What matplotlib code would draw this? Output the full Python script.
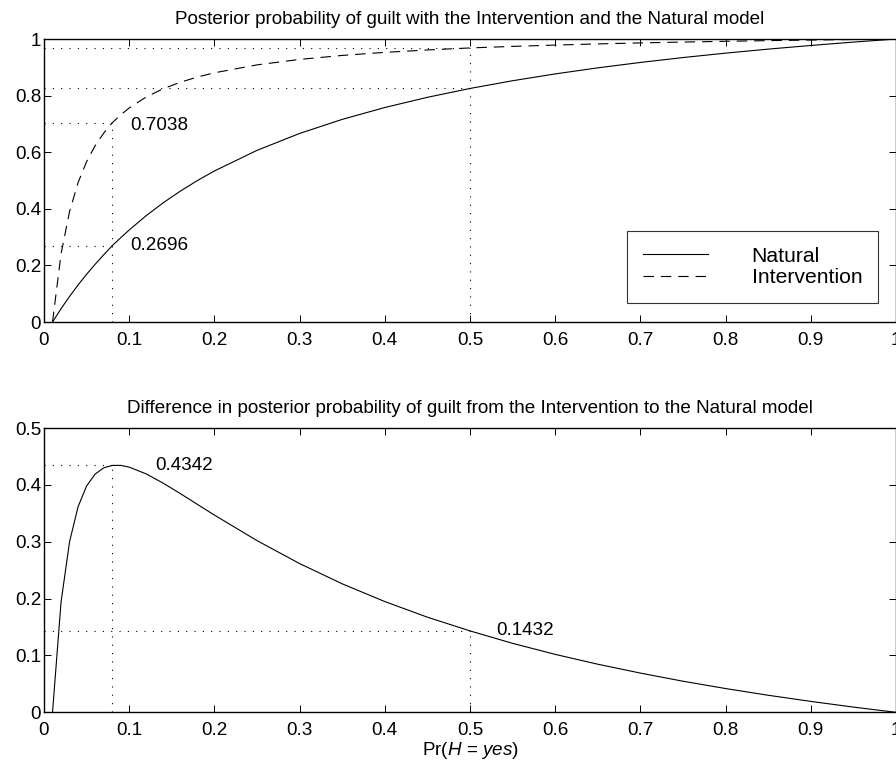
import matplotlib
matplotlib.use("Agg")
import matplotlib.pyplot as plt
from matplotlib.lines import Line2D

plt.rcParams['font.family'] = ['Liberation Sans', 'DejaVu Sans']
plt.rcParams['mathtext.fontset'] = 'custom'
plt.rcParams['mathtext.rm'] = 'Liberation Sans'
plt.rcParams['mathtext.it'] = 'Liberation Sans:italic'
plt.rcParams['lines.scale_dashes'] = False

# ---- data ----
prior = [0.01, 0.02, 0.03, 0.04, 0.05, 0.06, 0.07, 0.08, 0.09, 0.10, 0.12, 0.14,
         0.16, 0.18, 0.20, 0.25, 0.30, 0.35, 0.40, 0.45, 0.50, 0.55, 0.60, 0.65,
         0.70, 0.75, 0.80, 0.85, 0.90, 0.95, 1.00]
natural = [0.0, 0.0469, 0.0904, 0.1309, 0.1687, 0.2040, 0.2372, 0.2696, 0.2976,
           0.3252, 0.3759, 0.4215, 0.4625, 0.4998, 0.5337, 0.6066, 0.6663, 0.7160,
           0.7580, 0.7940, 0.8253, 0.8526, 0.8767, 0.8981, 0.9172, 0.9345, 0.9501,
           0.9643, 0.9772, 0.9891, 1.0]
intervention = [0.0, 0.2406, 0.3904, 0.4925, 0.5667, 0.6229, 0.6671, 0.7038, 0.7319,
                0.7564, 0.7952, 0.8244, 0.8472, 0.8656, 0.8806, 0.9086, 0.9279, 0.9420,
                0.9528, 0.9613, 0.9685, 0.9739, 0.9786, 0.9827, 0.9862, 0.9892, 0.9919,
                0.9943, 0.9964, 0.9983, 1.0]
difference = [0.0, 0.1937, 0.3000, 0.3616, 0.3980, 0.4189, 0.4299, 0.4342, 0.4343,
              0.4312, 0.4193, 0.4029, 0.3847, 0.3658, 0.3469, 0.3020, 0.2616, 0.2260,
              0.1948, 0.1673, 0.1432, 0.1213, 0.1019, 0.0846, 0.0690, 0.0547, 0.0418,
              0.0300, 0.0192, 0.0092, 0.0]

mark_x = [0.08, 0.5]
mark_nat = [0.2696, 0.8253]
mark_int = [0.7038, 0.9685]
mark_diff = [0.4342, 0.1432]
label_top = ['0.2696', '0.7038']
label_bottom = ['0.4342', '0.1432']

top_title = 'Posterior probability of guilt with the Intervention and the Natural model'
bottom_title = 'Difference in posterior probability of guilt from the Intervention to the Natural model'
xticks = [0, 0.1, 0.2, 0.3, 0.4, 0.5, 0.6, 0.7, 0.8, 0.9, 1]
xticklabels = ['0', '0.1', '0.2', '0.3', '0.4', '0.5', '0.6', '0.7', '0.8', '0.9', '1']
yticks_top = [0, 0.2, 0.4, 0.6, 0.8, 1]
yticklabels_top = ['0', '0.2', '0.4', '0.6', '0.8', '1']
yticks_bot = [0, 0.1, 0.2, 0.3, 0.4, 0.5]
yticklabels_bot = ['0', '0.1', '0.2', '0.3', '0.4', '0.5']

FS = 13.6
LFS = 15.2
DOT = (0, (0.8, 5.2))
DASH = (0, (7.5, 5))

fig = plt.figure(figsize=(8.96, 7.62), dpi=100)
ax1 = fig.add_axes([0.0491, 0.5774, 0.9509, 0.3714])
ax2 = fig.add_axes([0.0491, 0.0652, 0.9509, 0.3731])

def style(ax, yt, ytl):
    ax.set_xlim(0, 1)
    ax.set_xticks(xticks)
    ax.set_xticklabels(xticklabels)
    ax.set_yticks(yt)
    ax.set_yticklabels(ytl)
    ax.tick_params(direction='in', length=5, width=0.7, top=True, right=True,
                   labelsize=FS, colors='black')
    ax.tick_params(axis='x', pad=7)
    ax.tick_params(axis='y', pad=2)
    for s in ax.spines.values():
        s.set_linewidth(1.0)
        s.set_color('black')

# ---- top panel ----
style(ax1, yticks_top, yticklabels_top)
ax1.set_ylim(0, 1)
ax1.plot(prior, natural, color='black', lw=0.8, label='Natural')
ax1.plot(prior, intervention, color='black', lw=0.8, linestyle=DASH, label='Intervention')
for x, yn, yi in zip(mark_x, mark_nat, mark_int):
    ax1.plot([x, x], [0, yi], color='black', lw=0.8, linestyle=DOT)
    ax1.plot([0, x], [yn, yn], color='black', lw=0.8, linestyle=DOT)
    ax1.plot([0, x], [yi, yi], color='black', lw=0.8, linestyle=DOT)
ax1.text(mark_x[0] + 0.021, mark_nat[0], label_top[0], fontsize=FS, va='center', ha='left')
ax1.text(mark_x[0] + 0.021, mark_int[0] - 0.01, label_top[1], fontsize=FS, va='center', ha='left')
ax1.set_title(top_title, fontsize=FS, pad=11)

handles = [Line2D([], [], color='black', lw=0.8),
           Line2D([], [], color='black', lw=0.8, linestyle=DASH)]
leg = ax1.legend(handles, ['Natural', 'Intervention'], loc='lower right',
                 bbox_to_anchor=(0.979, 0.067), fontsize=LFS, frameon=True,
                 fancybox=False, shadow=False, handlelength=3.1, handletextpad=2.05,
                 labelspacing=0.12, borderpad=0.75, borderaxespad=0)
leg.get_frame().set_edgecolor('black')
leg.get_frame().set_linewidth(0.8)

# ---- bottom panel ----
style(ax2, yticks_bot, yticklabels_bot)
ax2.set_ylim(0, 0.5)
ax2.plot(prior, difference, color='black', lw=0.8)
for x, yd in zip(mark_x, mark_diff):
    ax2.plot([x, x], [0, yd], color='black', lw=0.8, linestyle=DOT)
    ax2.plot([0, x], [yd, yd], color='black', lw=0.8, linestyle=DOT)
ax2.text(mark_x[0] + 0.05, mark_diff[0], label_bottom[0], fontsize=FS, va='center', ha='left')
ax2.text(mark_x[1] + 0.031, mark_diff[1] + 0.001, label_bottom[1], fontsize=FS, va='center', ha='left')
ax2.set_title(bottom_title, fontsize=FS, pad=11)
ax2.set_xlabel(r'Pr($\mathit{H}$ = $\mathit{yes)}$', fontsize=FS, labelpad=1)

fig.savefig('out.png', dpi=100)
